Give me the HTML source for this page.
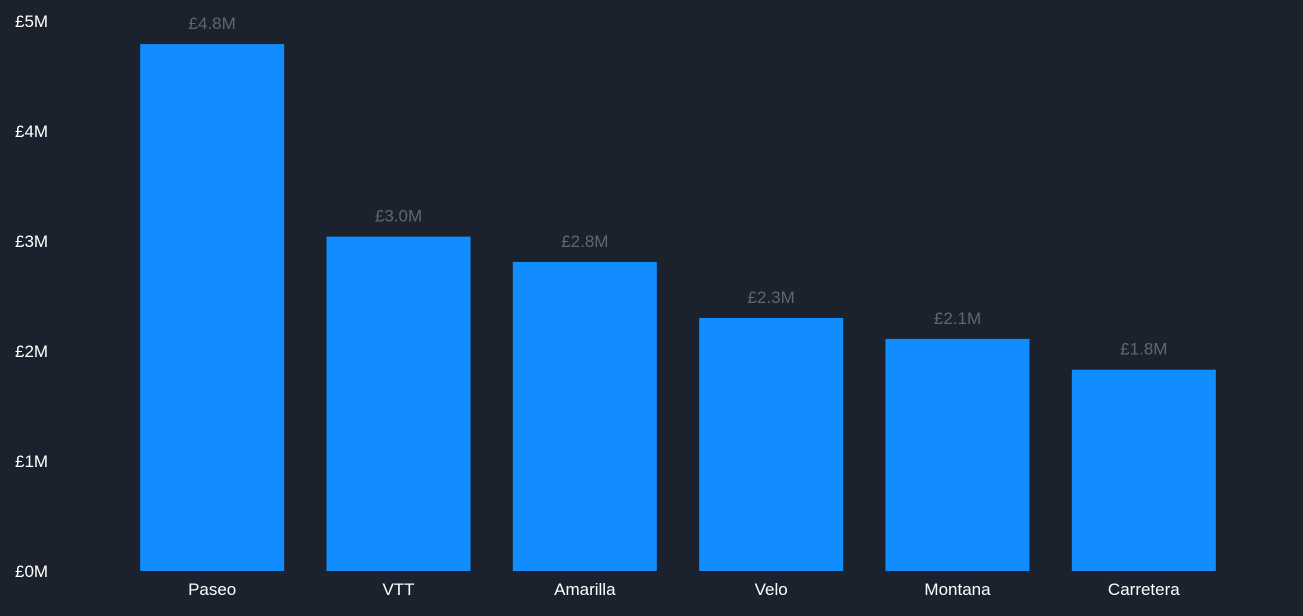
<!DOCTYPE html>
<html><head><meta charset="utf-8"><style>
html,body{margin:0;padding:0;background:#1b222d;}
svg{display:block;font-family:"Liberation Sans",sans-serif;}
</style></head><body>
<svg id="chart" width="1303" height="616" viewBox="0 0 1303 616">
<rect width="1303" height="616" fill="#1b222d"/>
<g id="yaxis"></g>
<g id="bars"></g>
<g id="xaxis"></g>
</svg>
<script>
const categories = ["Paseo","VTT","Amarilla","Velo","Montana","Carretera"];
const values = [4.79, 3.04, 2.81, 2.30, 2.11, 1.83];
const valueLabels = ["£4.8M","£3.0M","£2.8M","£2.3M","£2.1M","£1.8M"];
const yTicks = [0,1,2,3,4,5];
const yTickLabels = ["£0M","£1M","£2M","£3M","£4M","£5M"];

const NS="http://www.w3.org/2000/svg";
const plotLeft=119, plotRight=1237, y0=571, yTop=21, yMax=5;
const band=(plotRight-plotLeft)/categories.length, barW=144;
function y(v){return y0-(v/yMax)*(y0-yTop);}
function xc(i){return plotLeft+band*i+band/2;}
function mk(tag,attrs,parent,text){const e=document.createElementNS(NS,tag);for(const k in attrs)e.setAttribute(k,attrs[k]);if(text!==undefined)e.textContent=text;parent.appendChild(e);return e;}
const ya=document.getElementById('yaxis'),bg=document.getElementById('bars'),xa=document.getElementById('xaxis');
yTicks.forEach((t,i)=>{
  const el=mk('text',{x:15,y:y(t)+6,fill:'#ffffff','font-size':17},ya,yTickLabels[i]);
  
  
});
categories.forEach((c,i)=>{
  const r=mk('rect',{x:xc(i)-barW/2,y:y(values[i]),width:barW,height:y0-y(values[i]),fill:'#118dff'},bg);
  
  
  const l=mk('text',{x:xc(i),y:y(values[i])-15,fill:'#5f6670','font-size':17,'text-anchor':'middle'},bg,valueLabels[i]);
  
  
  const t=mk('text',{x:xc(i),y:595,fill:'#ffffff','font-size':17,'text-anchor':'middle'},xa,c);
  
  
});
</script>
</body></html>
